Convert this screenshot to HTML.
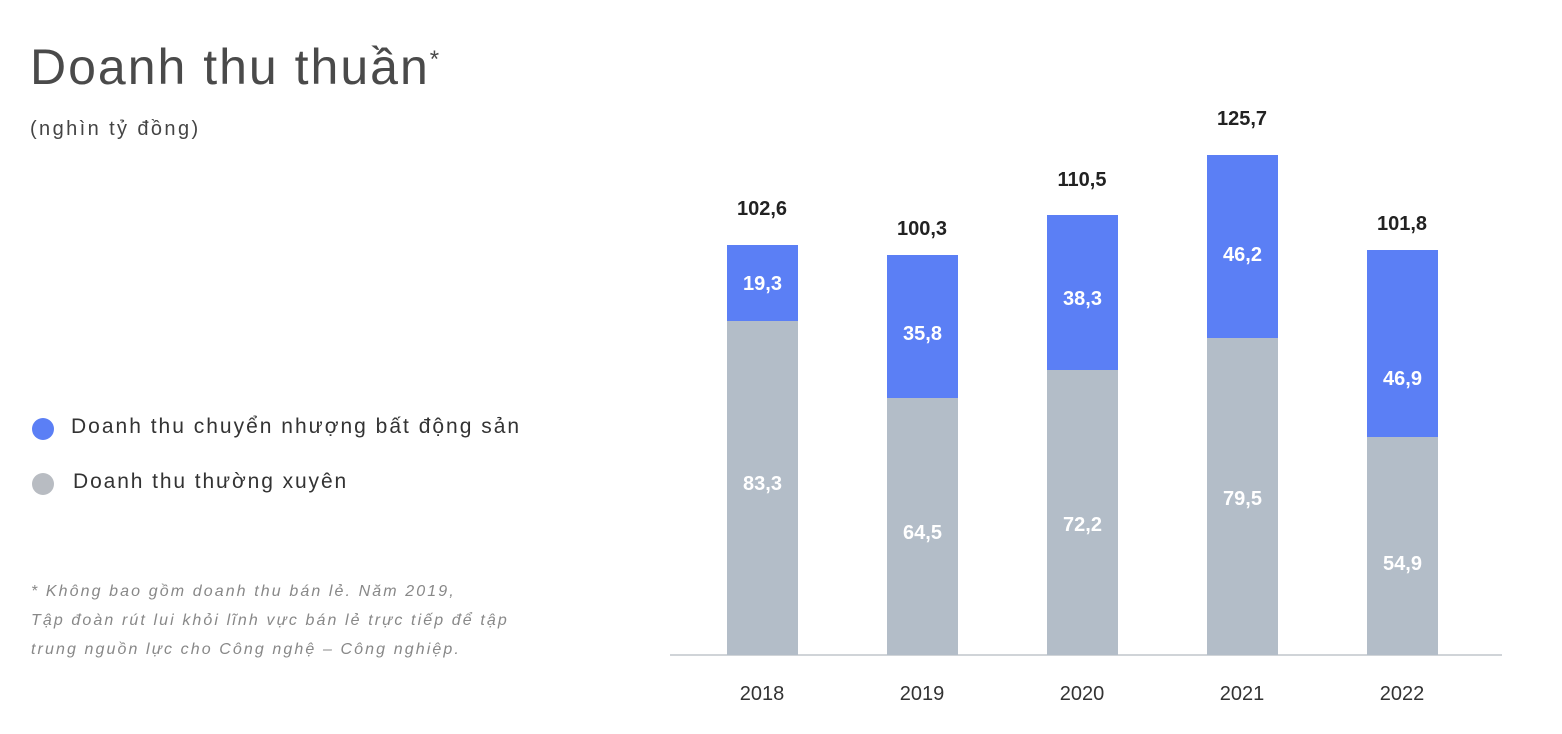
<!DOCTYPE html>
<html><head><meta charset="utf-8"><style>
html,body{margin:0;padding:0;background:#fff;}
body{width:1562px;height:734px;position:relative;overflow:hidden;font-family:"Liberation Sans","DejaVu Sans",sans-serif;}
.a{position:absolute;white-space:nowrap;}
.bar{position:absolute;width:71px;}
.b{background:#5b7ff5;}
.g{background:#b3bdc8;}
.v{position:absolute;width:71px;text-align:center;color:#fff;font-size:20px;font-weight:bold;}
.t{position:absolute;width:120px;text-align:center;color:#222;font-size:20px;font-weight:bold;}
.y{position:absolute;width:120px;text-align:center;color:#333;font-size:20px;top:683px;}
</style></head><body>
<div class="a" style="left:30px;top:38px;font-size:50px;color:#4a4a4a;letter-spacing:2px;">Doanh thu thuần<span style="font-size:24px;vertical-align:top;position:relative;top:8px;">*</span></div>
<div class="a" style="left:30px;top:118px;font-size:20px;color:#444;letter-spacing:2.4px;">(nghìn tỷ đồng)</div>
<div class="a" style="left:32px;top:418px;width:22px;height:22px;border-radius:50%;background:#5b7ff5;"></div>
<div class="a" style="left:71px;top:415px;font-size:21px;color:#333;letter-spacing:2px;">Doanh thu chuyển nhượng bất động sản</div>
<div class="a" style="left:32px;top:473px;width:22px;height:22px;border-radius:50%;background:#b8bcc2;"></div>
<div class="a" style="left:73px;top:470px;font-size:21px;color:#333;letter-spacing:1.9px;">Doanh thu thường xuyên</div>
<div class="a" style="left:31px;top:577px;font-size:16px;color:#888;font-style:italic;line-height:29px;letter-spacing:2.1px;">* Không bao gồm doanh thu bán lẻ. Năm 2019,<br>Tập đoàn rút lui khỏi lĩnh vực bán lẻ trực tiếp để tập<br>trung nguồn lực cho Công nghệ – Công nghiệp.</div>
<div class="a" style="left:670px;top:654px;width:832px;height:2px;background:#d0d4d8;"></div>

<div class="bar b" style="left:727px;top:245px;height:76px;"></div><div class="bar g" style="left:727px;top:321px;height:334px;"></div>
<div class="v" style="left:727px;top:273px;">19,3</div><div class="v" style="left:727px;top:473px;">83,3</div>
<div class="t" style="left:702px;top:198px;">102,6</div><div class="y" style="left:702px;">2018</div>

<div class="bar b" style="left:887px;top:255px;height:143px;"></div><div class="bar g" style="left:887px;top:398px;height:257px;"></div>
<div class="v" style="left:887px;top:323px;">35,8</div><div class="v" style="left:887px;top:522px;">64,5</div>
<div class="t" style="left:862px;top:218px;">100,3</div><div class="y" style="left:862px;">2019</div>

<div class="bar b" style="left:1047px;top:215px;height:155px;"></div><div class="bar g" style="left:1047px;top:370px;height:285px;"></div>
<div class="v" style="left:1047px;top:288px;">38,3</div><div class="v" style="left:1047px;top:514px;">72,2</div>
<div class="t" style="left:1022px;top:169px;">110,5</div><div class="y" style="left:1022px;">2020</div>

<div class="bar b" style="left:1207px;top:155px;height:183px;"></div><div class="bar g" style="left:1207px;top:338px;height:317px;"></div>
<div class="v" style="left:1207px;top:244px;">46,2</div><div class="v" style="left:1207px;top:488px;">79,5</div>
<div class="t" style="left:1182px;top:108px;">125,7</div><div class="y" style="left:1182px;">2021</div>

<div class="bar b" style="left:1367px;top:250px;height:187px;"></div><div class="bar g" style="left:1367px;top:437px;height:218px;"></div>
<div class="v" style="left:1367px;top:368px;">46,9</div><div class="v" style="left:1367px;top:553px;">54,9</div>
<div class="t" style="left:1342px;top:213px;">101,8</div><div class="y" style="left:1342px;">2022</div>
</body></html>
